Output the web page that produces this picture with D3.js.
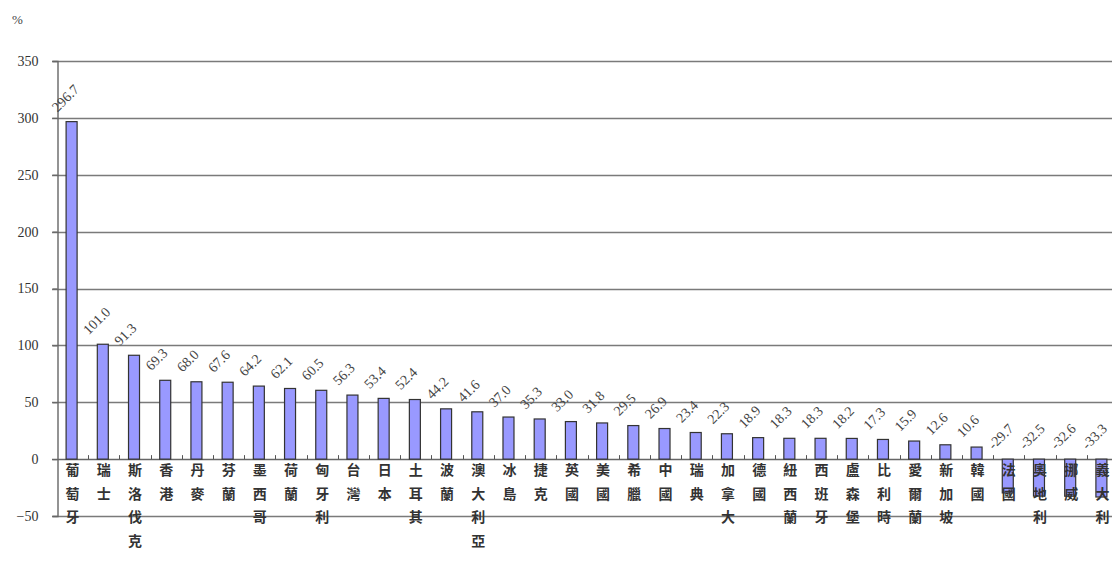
<!DOCTYPE html>
<html><head><meta charset="utf-8">
<script src="https://cdn.jsdelivr.net/npm/d3@7"></script>
<style>body{margin:0;background:#fff;}svg{display:block;}
.serif{font-family:"Liberation Serif","Times New Roman",serif;}
.cjk{font-family:"Noto Sans CJK TC","Noto Sans CJK SC",sans-serif;}
</style>
</head><body>
<svg id="chart" width="1112" height="582"></svg>
<script>
const categories = ["葡萄牙","瑞士","斯洛伐克","香港","丹麥","芬蘭","墨西哥","荷蘭","匈牙利","台灣","日本","土耳其","波蘭","澳大利亞","冰島","捷克","英國","美國","希臘","中國","瑞典","加拿大","德國","紐西蘭","西班牙","盧森堡","比利時","愛爾蘭","新加坡","韓國","法國","奧地利","挪威","義大利"];
const values = [296.7,101.0,91.3,69.3,68.0,67.6,64.2,62.1,60.5,56.3,53.4,52.4,44.2,41.6,37.0,35.3,33.0,31.8,29.5,26.9,23.4,22.3,18.9,18.3,18.3,18.2,17.3,15.9,12.6,10.6,-29.7,-32.5,-32.6,-33.3];
const yTicks = [-50,0,50,100,150,200,250,300,350];
const unitLabel = "%";

const svg = d3.select("#chart");
const x = d3.scaleBand().domain(categories).range([57, 1118]);
const y = d3.scaleLinear().domain([-50, 350]).range([516, 61]);

// gridlines
svg.append("g").selectAll("line").data(yTicks).join("line")
  .attr("x1", 52).attr("x2", 1112)
  .attr("y1", d => Math.round(y(d)) + 0.5).attr("y2", d => Math.round(y(d)) + 0.5)
  .attr("stroke", d => d === 0 ? "#666" : "#7a7a7a").attr("stroke-width", 1.4);

// y axis
const yAxis = d3.axisLeft(y).tickValues(yTicks).tickSize(5).tickFormat(d3.format("d"));
const ga = svg.append("g").attr("transform", "translate(57.5,0)").call(yAxis);
ga.attr("font-family", null).attr("font-size", null);
ga.select(".domain").attr("stroke", "#666").attr("stroke-width", 1.4);
ga.selectAll(".tick line").attr("stroke", "#666").attr("stroke-width", 1.2);
ga.selectAll(".tick text").attr("class", "serif").style("font-size", "14px")
  .attr("fill", "#333").attr("x", -19);

svg.append("text").attr("class", "serif").attr("x", 12).attr("y", 24).text(unitLabel)
  .style("font-size", "13px").attr("fill", "#444");

// category ticks on zero line
svg.append("g").selectAll("line").data(categories.slice(1)).join("line")
  .attr("x1", d => Math.round(x(d)) + 0.5).attr("x2", d => Math.round(x(d)) + 0.5)
  .attr("y1", y(0)).attr("y2", y(0) - 4).attr("stroke", "#555");

const bw = 11;
const cx = d => x(d) + x.bandwidth() / 2 - 1;

// bars
svg.append("g").selectAll("rect").data(values).join("rect")
  .attr("x", (d, i) => cx(categories[i]) - bw / 2)
  .attr("y", d => y(Math.max(0, d)))
  .attr("width", bw)
  .attr("height", d => Math.abs(y(d) - y(0)))
  .attr("fill", "#9999ff").attr("stroke", "#333").attr("stroke-width", 1.2);

// value labels
svg.append("g").selectAll("text").data(values).join("text")
  .attr("class", "serif")
  .attr("transform", (d, i) => `translate(${cx(categories[i]) - 14},${y(Math.max(0, d)) - 9}) rotate(-45)`)
  .style("font-size", "14px").attr("fill", "#444")
  .text(d => d.toFixed(1));

// category labels (vertical stacked characters)
const cl = svg.append("g");
categories.forEach(c => {
  const t = cl.append("text").attr("class", "cjk").attr("text-anchor", "middle")
    .style("font-size", "14px").style("font-weight", "bold").attr("fill", "#333");
  Array.from(c).forEach((ch, j) => {
    t.append("tspan").attr("x", cx(c) + 1).attr("y", 475 + j * 23.5).text(ch);
  });
});
</script>
</body></html>
